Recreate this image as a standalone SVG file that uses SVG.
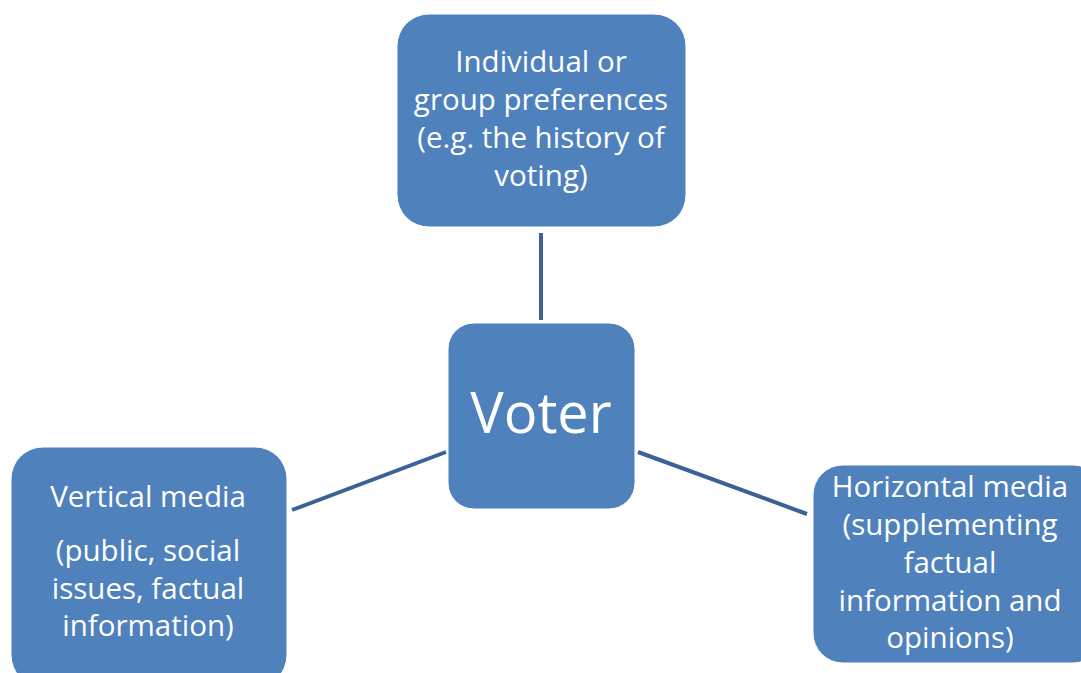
<svg xmlns="http://www.w3.org/2000/svg" width="1081" height="673" viewBox="0 0 1081 673">
<style>
.box{fill:#4F81BD;stroke:#ffffff;stroke-width:1}
.t{fill:#ffffff;font-family:"Open Sans","Liberation Sans",sans-serif;font-size:29.5px;text-anchor:middle}
.big{font-size:56px}
.conn line{stroke:#3C6196;stroke-width:4}
</style>
<rect width="1081" height="673" fill="#ffffff"/>
<g class="conn" id="connectors">
<line x1="541" y1="233" x2="541" y2="320"/>
<line x1="292" y1="510" x2="446" y2="452"/>
<line x1="638" y1="452" x2="807" y2="514"/>
</g>
<g id="node-preferences">
<rect class="box" x="397" y="14" width="289" height="213" rx="32"/>
<text class="t" x="541" y="72">Individual or</text>
<text class="t" x="541" y="110">group preferences</text>
<text class="t" x="541" y="148">(e.g. the history of</text>
<text class="t" x="541" y="186">voting)</text>
</g>
<g id="node-voter">
<rect class="box" x="448" y="323" width="187" height="186" rx="26"/>
<text class="t big" x="541" y="433">Voter</text>
</g>
<g id="node-vertical">
<rect class="box" x="11" y="447" width="276" height="240" rx="32"/>
<text class="t" x="148" y="507">Vertical media</text>
<text class="t" x="148" y="561">(public, social</text>
<text class="t" x="148" y="599">issues, factual</text>
<text class="t" x="148" y="636">information)</text>
</g>
<g id="node-horizontal">
<rect class="box" x="813" y="465" width="290" height="198" rx="30"/>
<text class="t" x="950" y="497">Horizontal media</text>
<text class="t" x="950" y="535">(supplementing</text>
<text class="t" x="950" y="573">factual</text>
<text class="t" x="950" y="611">information and</text>
<text class="t" x="950" y="648">opinions)</text>
</g>
</svg>
